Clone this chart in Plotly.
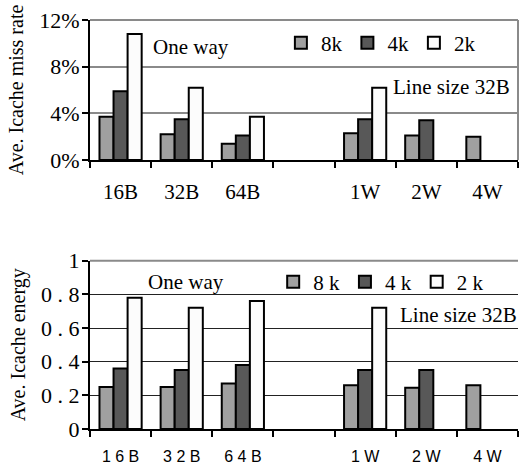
import plotly.graph_objects as go

# ---- data ----
categories = ["16B", "32B", "64B", "gap", "1W", "2W", "4W"]
top_labels = ["16B", "32B", "64B", "", "1W", "2W", "4W"]
bottom_labels = ["1 6 B", "3 2 B", "6 4 B", "", "1 W", "2 W", "4 W"]
series_names = ["8k", "4k", "2k"]
bottom_legend_names = ["8 k", "4 k", "2 k"]

miss_8k = [3.7, 2.2, 1.4, None, 2.3, 2.1, 2.0]
miss_4k = [5.9, 3.5, 2.1, None, 3.5, 3.4, None]
miss_2k = [10.8, 6.2, 3.7, None, 6.2, None, None]

energy_8k = [0.25, 0.25, 0.27, None, 0.26, 0.245, 0.26]
energy_4k = [0.36, 0.35, 0.38, None, 0.35, 0.35, None]
energy_2k = [0.78, 0.72, 0.76, None, 0.72, None, None]

miss_ticks = [0, 4, 8, 12]
miss_tick_labels = ["0%", "4%", "8%", "12%"]
energy_ticks = [0, 0.2, 0.4, 0.6, 0.8, 1]
energy_tick_labels = ["0", "0 . 2", "0 . 4", "0 . 6", "0 . 8", "1"]

colors = ["#a0a0a0", "#585858", "#fcfcfc"]

SERIF = "Liberation Serif, Times New Roman, serif"
SANS = "Liberation Sans, Arial, sans-serif"

fig = go.Figure()

for name, vals, col in zip(series_names, [miss_8k, miss_4k, miss_2k], colors):
    fig.add_trace(go.Bar(x=categories, y=vals, name=name, xaxis="x", yaxis="y",
                         marker=dict(color=col, line=dict(color="black", width=2)),
                         legend="legend"))

for name, vals, col in zip(bottom_legend_names, [energy_8k, energy_4k, energy_2k], colors):
    fig.add_trace(go.Bar(x=categories, y=vals, name=name, xaxis="x2", yaxis="y2",
                         marker=dict(color=col, line=dict(color="black", width=2)),
                         legend="legend2"))

xcommon = dict(type="category", categoryorder="array", categoryarray=categories,
               range=[-0.5, 6.5], tickson="boundaries", ticks="outside", ticklen=6,
               tickcolor="black", tickwidth=1.5, showline=True, linecolor="black",
               linewidth=2, showgrid=False, tickvals=categories, automargin=False)

ycommon = dict(ticks="outside", ticklen=6, tickcolor="black", tickwidth=1.5, showline=True,
               linecolor="black", linewidth=2, zeroline=False, showgrid=True,
               tickfont=dict(family=SERIF, size=22), automargin=False, ticklabelstandoff=-2)

fig.update_layout(
    template="none",
    width=519, height=468,
    margin=dict(l=90, r=1, t=20, b=39, autoexpand=False),
    plot_bgcolor="white", paper_bgcolor="white",
    barmode="group", bargap=0.31, bargroupgap=0,
    font=dict(family=SERIF, size=21, color="black"),
    xaxis=dict(xcommon, anchor="y", domain=[0, 1], ticktext=top_labels,
               tickfont=dict(family=SERIF, size=21), ticklabelstandoff=12),
    yaxis=dict(ycommon, anchor="x", domain=[0.6577, 1], range=[0, 12], tickvals=miss_ticks,
               ticktext=miss_tick_labels, gridcolor="#8a8a8a", gridwidth=1.5,
               title=dict(text="Ave. Icache miss rate", font=dict(family=SERIF, size=20), standoff=10)),
    xaxis2=dict(xcommon, anchor="y2", domain=[0, 1], ticktext=bottom_labels,
                tickfont=dict(family=SANS, size=16), ticklabelstandoff=12),
    yaxis2=dict(ycommon, anchor="x2", domain=[0, 0.4115], range=[0, 1], tickvals=energy_ticks,
                ticktext=energy_tick_labels, gridcolor="#222", gridwidth=1,
                title=dict(text="Ave. Icache energy", font=dict(family=SERIF, size=20), standoff=10)),
    legend=dict(orientation="h", x=0.446, y=0.9438, xanchor="left", yanchor="middle",
                bgcolor="rgba(0,0,0,0)", font=dict(family=SERIF, size=21), itemwidth=30,
                traceorder="normal"),
    legend2=dict(orientation="h", x=0.428, y=0.3594, xanchor="left", yanchor="middle",
                 bgcolor="rgba(0,0,0,0)", font=dict(family=SERIF, size=21), itemwidth=30,
                 traceorder="normal"),
    showlegend=True,
)

# frame lines
fig.add_shape(type="line", xref="x domain", yref="y domain", x0=0, x1=1, y0=1, y1=1,
              line=dict(color="#8a8a8a", width=2))
fig.add_shape(type="line", xref="x domain", yref="y domain", x0=1, x1=1, y0=0, y1=1,
              line=dict(color="#8a8a8a", width=2))
fig.add_shape(type="line", xref="x2 domain", yref="y2 domain", x0=0, x1=1, y0=1, y1=1,
              line=dict(color="#8a8a8a", width=2))

annots = [
    ("One way", 0.237, 0.934),
    ("Line size 32B", 0.8435, 0.836),
    ("One way", 0.224, 0.359),
    ("Line size 32B", 0.86, 0.279),
]
for text, x, y in annots:
    fig.add_annotation(text=text, x=x, y=y, xref="paper", yref="paper", showarrow=False,
                       font=dict(family=SERIF, size=21, color="black"),
                       xanchor="center", yanchor="middle")

fig.write_html("out.html", config={"displayModeBar": False},
               post_script="document.body.style.margin='0';document.body.style.overflow='hidden';")
